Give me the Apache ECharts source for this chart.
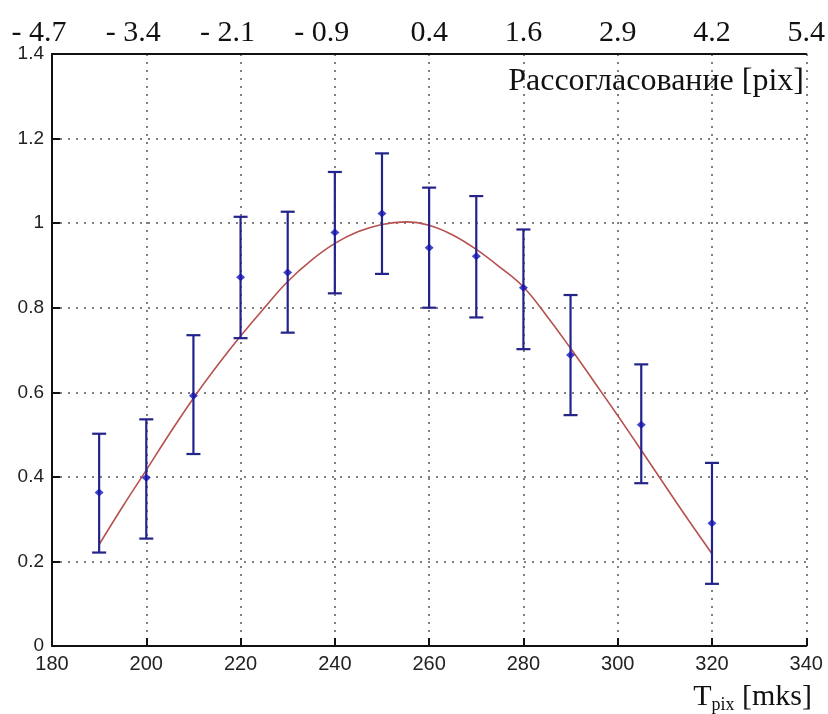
<!DOCTYPE html>
<html>
<head>
<meta charset="utf-8">
<script src="https://cdn.jsdelivr.net/npm/echarts@6/dist/echarts.min.js"></script>
<style>
html,body{margin:0;padding:0;background:#fff;}
#chart{width:828px;height:714px;}
</style>
</head>
<body>
<div id="chart"></div>
<script>
// ---- data ----
var xValues = [190, 200, 210, 220, 230, 240, 250, 260, 270, 280, 290, 305, 320];
var means   = [0.363, 0.398, 0.592, 0.872, 0.883, 0.978, 1.023, 0.942, 0.922, 0.847, 0.688, 0.523, 0.290];
var upper   = [0.502, 0.536, 0.735, 1.015, 1.027, 1.121, 1.165, 1.084, 1.064, 0.985, 0.830, 0.666, 0.433];
var lower   = [0.221, 0.254, 0.454, 0.728, 0.741, 0.834, 0.880, 0.800, 0.777, 0.702, 0.546, 0.385, 0.147];

var fitX = [190, 195, 200, 205, 210, 215, 220, 225, 230, 235, 240, 245, 250, 255, 260, 265, 270, 275, 280, 285, 290, 295, 300, 305, 310, 315, 320];
var fitY = [0.240, 0.330, 0.416, 0.503, 0.586, 0.662, 0.733, 0.799, 0.862, 0.912, 0.952, 0.980, 0.997, 1.003, 0.995, 0.972, 0.938, 0.896, 0.849, 0.780, 0.704, 0.625, 0.545, 0.463, 0.380, 0.298, 0.218];

var bottomTicks = [180, 200, 220, 240, 260, 280, 300, 320, 340];
var topLabels = ['- 4.7', '- 3.4', '- 2.1', '- 0.9', '0.4', '1.6', '2.9', '4.2', '5.4'];
var yTicks = [0, 0.2, 0.4, 0.6, 0.8, 1, 1.2, 1.4];

var topTitle = 'Рассогласование [pix]';

// ---- build ----
var errData = xValues.map(function (x, i) { return [x, lower[i], upper[i]]; });
var meanData = xValues.map(function (x, i) { return [x, means[i]]; });
var fitData = fitX.map(function (x, i) { return [x, fitY[i]]; });

var chart = echarts.init(document.getElementById('chart'), null, {renderer: 'canvas'});

var gridDots = {type: [2, 6], color: '#555', width: 1.5};
var sansLabel = {fontFamily: 'Liberation Sans', color: '#222'};

var option = {
  backgroundColor: '#fff',
  animation: false,
  grid: {left: 52, right: 18, top: 54, bottom: 68, containLabel: false},
  xAxis: [
    {
      type: 'value', position: 'bottom',
      min: bottomTicks[0], max: bottomTicks[bottomTicks.length - 1],
      interval: bottomTicks[1] - bottomTicks[0],
      axisLine: {show: true, onZero: false, lineStyle: {color: '#111', width: 2}},
      axisTick: {show: true, inside: true, length: 8, lineStyle: {color: '#111', width: 2}},
      axisLabel: Object.assign({fontSize: 20, margin: 8}, sansLabel),
      splitLine: {show: true, lineStyle: gridDots}
    },
    {
      type: 'value', position: 'top',
      min: bottomTicks[0], max: bottomTicks[bottomTicks.length - 1],
      interval: bottomTicks[1] - bottomTicks[0],
      axisLine: {show: true, onZero: false, lineStyle: {color: '#111', width: 2}},
      axisTick: {show: false},
      axisLabel: {
        margin: 6,
        formatter: function (v) {
          var idx = bottomTicks.indexOf(v);
          var s = idx >= 0 ? topLabels[idx] : '';
          return s.charAt(0) === '-' ? '{n|' + s + '}' : '{p|' + s + '}';
        },
        rich: {
          n: {fontFamily: 'Liberation Serif', fontSize: 30, color: '#111', padding: [0, 26, 0, 0]},
          p: {fontFamily: 'Liberation Serif', fontSize: 30, color: '#111'}
        }
      },
      splitLine: {show: false}
    }
  ],
  yAxis: {
    type: 'value', min: yTicks[0], max: yTicks[yTicks.length - 1],
    interval: yTicks[1] - yTicks[0],
    axisLine: {show: true, onZero: false, lineStyle: {color: '#111', width: 2}},
    axisTick: {show: true, inside: true, length: 8, lineStyle: {color: '#111', width: 2}},
    axisLabel: Object.assign({fontSize: 19, margin: 8, formatter: function (v) { return String(Math.round(v * 10) / 10); }}, sansLabel),
    splitLine: {show: true, lineStyle: gridDots}
  },
  graphic: [
    {
      type: 'text', x: 804, y: 82, z: 10,
      style: {text: topTitle, fontFamily: 'Liberation Serif', fontSize: 32, fill: '#111',
        align: 'right', verticalAlign: 'middle'}
    },
    {
      type: 'text', x: 812, y: 697, z: 10,
      style: {
        text: '{a|T}{b|pix}{a| [mks]}',
        align: 'right', verticalAlign: 'middle',
        rich: {
          a: {fontFamily: 'Liberation Serif', fontSize: 30, fill: '#111', lineHeight: 34},
          b: {fontFamily: 'Liberation Serif', fontSize: 18, fill: '#111', lineHeight: 34, verticalAlign: 'bottom', padding: [12, 0, 0, 0]}
        }
      }
    }
  ],
  series: [
    {
      type: 'line', name: 'fit', xAxisIndex: 0, data: fitData,
      smooth: 0.4, showSymbol: false, symbol: 'none',
      lineStyle: {color: '#b85050', width: 1.6}, z: 3
    },
    {
      type: 'custom', name: 'err', xAxisIndex: 0, data: errData, z: 4,
      renderItem: function (params, api) {
        var x = api.value(0);
        var lo = api.coord([x, api.value(1)]);
        var hi = api.coord([x, api.value(2)]);
        var hw = 7;
        var st = {stroke: '#23238a', lineWidth: 2.2};
        return {
          type: 'group',
          children: [
            {type: 'line', shape: {x1: lo[0], y1: lo[1], x2: hi[0], y2: hi[1]}, style: st},
            {type: 'line', shape: {x1: lo[0] - hw, y1: lo[1], x2: lo[0] + hw, y2: lo[1]}, style: st},
            {type: 'line', shape: {x1: hi[0] - hw, y1: hi[1], x2: hi[0] + hw, y2: hi[1]}, style: st}
          ]
        };
      },
      encode: {x: 0, y: [1, 2]}
    },
    {
      type: 'scatter', name: 'mean', xAxisIndex: 0, data: meanData, z: 5,
      symbol: 'diamond', symbolSize: [9, 8],
      itemStyle: {color: '#1414b4'}
    }
  ]
};
chart.setOption(option);
</script>
</body>
</html>
